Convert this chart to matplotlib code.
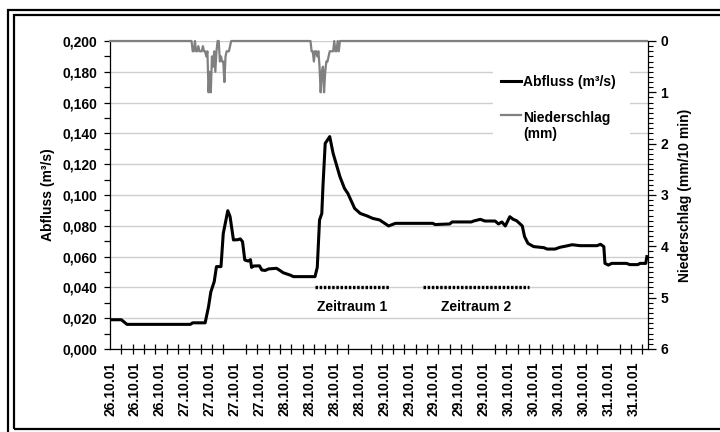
#!/usr/bin/env python3
# -*- coding: utf-8 -*-
import numpy as np
import matplotlib.pyplot as plt
from matplotlib.ticker import MultipleLocator, FixedLocator, FuncFormatter
from matplotlib.patches import Rectangle

plt.rcParams['font.family'] = ['Liberation Sans', 'DejaVu Sans']
plt.rcParams['font.weight'] = 'bold'
plt.rcParams['font.size'] = 10

# Zeitachse: Index der 10-min-Werte
n_werte = 475

# Abfluss (m³/s), Stützstellen
t_abfluss = [0, 10, 15, 71, 73, 84, 87, 89, 92, 94, 98, 100, 104, 106, 109,
             113, 115, 117, 119, 122, 124, 125, 127, 132, 134, 137, 140, 147,
             150, 153, 159, 162, 181, 183, 185, 187, 188, 190, 194, 197, 203,
             207, 210, 216, 221, 227, 232, 238, 246, 252, 285, 287, 300, 302,
             319, 321, 327, 331, 340, 343, 346, 349, 353, 356, 359, 364, 366,
             369, 374, 383, 386, 393, 397, 403, 408, 415, 430, 433, 436, 437,
             440, 443, 456, 459, 466, 468, 473, 474]
abfluss = [0.019, 0.019, 0.016, 0.016, 0.017, 0.017, 0.0275, 0.037, 0.0437,
           0.0535, 0.0535, 0.075, 0.0898, 0.086, 0.0708, 0.071, 0.0715, 0.0697,
           0.0578, 0.0571, 0.058, 0.053, 0.0539, 0.054, 0.0513, 0.051, 0.052,
           0.0524, 0.051, 0.0495, 0.048, 0.047, 0.047, 0.053, 0.0838, 0.088,
           0.1054, 0.1335, 0.1379, 0.127, 0.1119, 0.1043, 0.101, 0.0913, 0.088,
           0.0864, 0.0848, 0.0838, 0.0799, 0.0816, 0.0816, 0.0808, 0.0812,
           0.0825, 0.0825, 0.0831, 0.0842, 0.0831, 0.0831, 0.0812, 0.0825,
           0.0799, 0.0859, 0.0842, 0.0833, 0.0799, 0.073, 0.0686, 0.0665,
           0.0658, 0.0649, 0.0649, 0.066, 0.0669, 0.0677, 0.0671, 0.0671,
           0.068, 0.0665, 0.0556, 0.0545, 0.0556, 0.0556, 0.0548, 0.0548,
           0.0556, 0.0556, 0.06]

# Niederschlag (mm/10 min), nur Werte ungleich 0
regen_idx = list(range(73, 107)) + list(range(178, 203))
regen_mm = [0.2, 0.2, 0.0, 0.2, 0.2, 0.1, 0.2, 0.2, 0.2, 0.1, 0.2, 0.2, 0.3,
            0.2, 1.0, 0.6, 1.0, 0.3, 0.5, 0.2, 0.6, 0.2, 0.0, 0.0, 0.4, 0.3,
            0.4, 0.4, 0.8, 0.3, 0.2, 0.2, 0.2, 0.1,
            0.2, 0.2, 0.4, 0.2, 0.2, 0.3, 0.2, 0.5, 1.0, 0.6, 0.5, 1.0, 0.6,
            0.4, 0.4, 0.3, 0.2, 0.2, 0.2, 0.2, 0.0, 0.2, 0.2, 0.0, 0.2]

# Beschriftung der Zeitachse (alle 22 Werte)
datum = (["26.10.01"] * 3 + ["27.10.01"] * 4 + ["28.10.01"] * 4 +
         ["29.10.01"] * 5 + ["30.10.01"] * 4 + ["31.10.01"] * 2)
label_schritt = 22
tick_schritt = 10

# Auswertezeiträume
zeitraum_namen = ["Zeitraum 1", "Zeitraum 2"]
zeitraum_start = [181, 276]
zeitraum_ende = [246, 370]
zeitraum_niveau = 0.040

regen = np.zeros(n_werte)
regen[regen_idx] = regen_mm
t_regen = np.arange(n_werte)

fig = plt.figure(figsize=(7.2, 4.32), dpi=100)
ax = fig.add_axes([110 / 720, 1 - 349 / 432, 538 / 720, 308 / 432])
ax2 = ax.twinx()

# Abfluss
ax.plot(t_abfluss, abfluss, color="black", lw=2.2, solid_joinstyle="round",
        zorder=3)

# Zeiträume
for name, a, e in zip(zeitraum_namen, zeitraum_start, zeitraum_ende):
    ax.plot([a, e], [zeitraum_niveau, zeitraum_niveau], color="black", lw=2.4,
            linestyle=(0, (0.75, 0.5)), zorder=3)
    ax.annotate(name, xy=((a + e) / 2, zeitraum_niveau), xytext=(0, -14),
                textcoords="offset points", ha="center", va="center",
                fontsize=10, fontweight="bold")

ax.set_xlim(0, n_werte)
ax.set_ylim(0, 0.2)
ax.yaxis.set_major_locator(MultipleLocator(0.02))
ax.yaxis.set_minor_locator(MultipleLocator(0.01))
ax.yaxis.set_major_formatter(FuncFormatter(lambda v, p: f"{v:.3f}".replace(".", ",")))
ax.grid(axis="y", which="major", color="#cfcfcf", lw=1.0, zorder=0)
ax.set_axisbelow(True)

label_pos = np.arange(len(datum)) * label_schritt
ax.xaxis.set_major_locator(FixedLocator(label_pos))
ax.set_xticklabels(datum, rotation=90)
ax.xaxis.set_minor_locator(MultipleLocator(tick_schritt))
ax.tick_params(axis="x", which="major", length=0, pad=9)
ax.tick_params(axis="x", which="minor", length=7, width=0.9, direction="inout")
ax.tick_params(axis="y", which="both", direction="out", length=4, width=0.9,
               pad=5)
for s in ["top", "right"]:
    ax.spines[s].set_visible(False)
ax.spines["left"].set_linewidth(0.9)
ax.spines["bottom"].set_linewidth(0.9)
ax.set_ylabel("Abfluss (m³/s)", fontsize=10, fontweight="bold")
ax.yaxis.set_label_coords(-0.102, 0.5)

# Niederschlag (invertierte Achse)
ax2.plot(t_regen, regen, color="#808080", lw=1.6, clip_on=False, zorder=2)
ax2.set_ylim(6, 0)
ax2.yaxis.set_major_locator(MultipleLocator(1))
ax2.yaxis.set_minor_locator(MultipleLocator(0.1))
ax2.tick_params(axis="y", which="major", direction="out", length=6,
                width=0.9, pad=3)
ax2.tick_params(axis="y", which="minor", direction="out", length=3.5,
                width=0.8)
for s in ["top", "left", "bottom"]:
    ax2.spines[s].set_visible(False)
ax2.spines["right"].set_linewidth(0.9)
ax2.set_ylabel("Niederschlag (mm/10 min)", fontsize=10, fontweight="bold")
ax2.yaxis.set_label_coords(1.0558, 0.5)

# Legende
ax2.add_patch(Rectangle((0.712, 0.672), 0.2545, 0.24, transform=ax.transAxes,
                        facecolor="white", edgecolor="none", zorder=4))
ax2.plot([0.726, 0.7645], [0.870, 0.870], color="black", lw=2.2,
         transform=ax.transAxes, zorder=5)
ax2.plot([0.726, 0.7645], [0.760, 0.760], color="#808080", lw=1.6,
         transform=ax.transAxes, zorder=5)
ax2.text(0.7677, 0.854, "Abfluss (m³/s)", transform=ax.transAxes,
         va="baseline", ha="left", zorder=6)
ax2.text(0.7677, 0.738, "Niederschlag", transform=ax.transAxes,
         va="baseline", ha="left", zorder=6)
ax2.text(0.7677, 0.686, "(mm)", transform=ax.transAxes,
         va="baseline", ha="left", zorder=6)

# Doppelrahmen
fig.add_artist(Rectangle((8 / 720, -10 / 432), 740 / 720, 432.5 / 432,
                         transform=fig.transFigure, fill=False,
                         edgecolor="black", lw=1.6))
fig.add_artist(Rectangle((13.5 / 720, 3.5 / 432), 740 / 720, 413.5 / 432,
                         transform=fig.transFigure, fill=False,
                         edgecolor="black", lw=1.6))

fig.savefig("out.png", dpi=100)
